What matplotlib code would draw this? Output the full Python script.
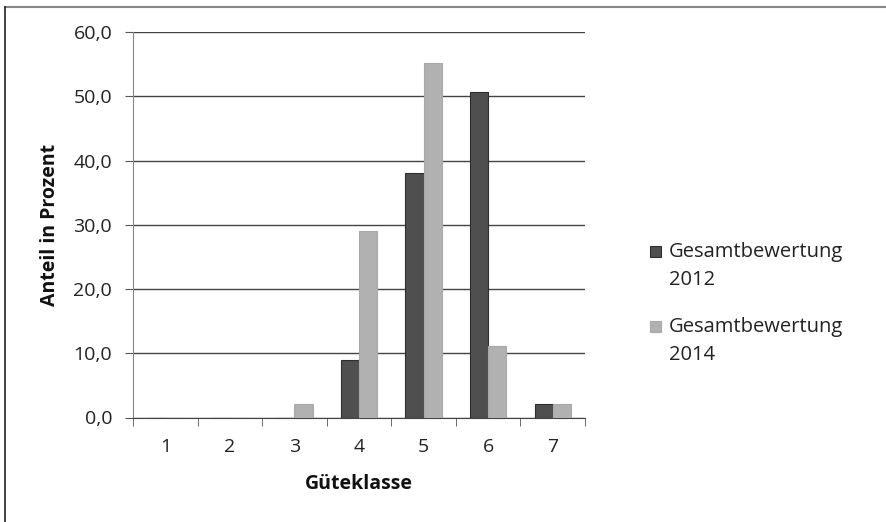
import matplotlib
matplotlib.use("Agg")
import matplotlib.pyplot as plt
import numpy as np
from matplotlib.lines import Line2D
from matplotlib.patches import Rectangle

categories = ["1", "2", "3", "4", "5", "6", "7"]
series_2012 = [0.0, 0.0, 0.0, 8.9, 38.0, 50.6, 2.1]
series_2014 = [0.0, 0.0, 2.1, 29.0, 55.1, 11.2, 2.1]
series_names = ["Gesamtbewertung\n2012", "Gesamtbewertung\n2014"]
yticks = [0, 10, 20, 30, 40, 50, 60]
ytick_labels = ["0,0", "10,0", "20,0", "30,0", "40,0", "50,0", "60,0"]

plt.rcParams['font.family'] = ['Open Sans', 'DejaVu Sans']

W, H = 886, 522
fig = plt.figure(figsize=(W / 100, H / 100), dpi=100)
ax = fig.add_axes([133 / W, 1 - 417.5 / H, (585 - 133) / W, (417.5 - 32) / H])

x = np.arange(len(categories))
bw = 0.28
dark = "#4f4f4f"
light = "#b1b1b1"
dark_edge = "#2e2e2e"
light_edge = "#a8a8a8"
ax.bar(x - bw / 2, series_2012, bw, color=dark, edgecolor=dark_edge, linewidth=0.8, zorder=3)
ax.bar(x + bw / 2, series_2014, bw, color=light, edgecolor=light_edge, linewidth=0.8, zorder=3)

ax.set_xlim(-0.5, len(categories) - 0.5)
ax.set_ylim(0, 60)
ax.set_yticks(yticks)
ax.set_yticklabels(ytick_labels, fontsize=14, color="#222222")
ax.yaxis.grid(True, color="#444444", linewidth=1.0, zorder=1)
ax.set_axisbelow(True)

ax.set_xticks(x)
ax.set_xticklabels(categories, fontsize=14, color="#222222")
ax.tick_params(axis="x", length=0, pad=15)
ax.set_xticks(np.arange(-0.5, len(categories)), minor=True)
ax.tick_params(axis="x", which="minor", length=6, color="#555555", direction="out")
ax.tick_params(axis="y", length=6, color="#555555", direction="out", pad=9)

for s in ["top", "right"]:
    ax.spines[s].set_visible(False)
ax.spines["left"].set_color("#888888")
ax.spines["bottom"].set_color("#444444")

ax.set_ylabel("Anteil in Prozent", fontsize=14, fontweight="bold", labelpad=9.5, color="#111111")
ax.set_xlabel("Güteklasse", fontsize=14, fontweight="bold", labelpad=13, color="#111111")

# manual legend (Excel style: marker aligned with first line)
legend_colors = [(dark, dark_edge), (light, light_edge)]
legend_baselines = [(257, 285), (332, 360)]
for name, (fc, ec), (b1, b2) in zip(series_names, legend_colors, legend_baselines):
    l1, l2 = name.split("\n")
    fig.text(669 / W, 1 - b1 / H, l1, fontsize=14.5, va="baseline", ha="left", color="#222222")
    fig.text(669 / W, 1 - b2 / H, l2, fontsize=14.5, va="baseline", ha="left", color="#222222")
    fig.add_artist(Rectangle((650 / W, 1 - (b1) / H), 11 / W, 11 / H, facecolor=fc, edgecolor=ec,
                             linewidth=0.8, transform=fig.transFigure))

fig.add_artist(Line2D([4.5 / W, 1], [1 - 6.5 / H, 1 - 6.5 / H], color="#888888", linewidth=1.5,
                      transform=fig.transFigure))
fig.add_artist(Line2D([4.5 / W, 4.5 / W], [0, 1 - 6.5 / H], color="#222222", linewidth=1.2,
                      transform=fig.transFigure))

fig.savefig("out.png", dpi=100)
